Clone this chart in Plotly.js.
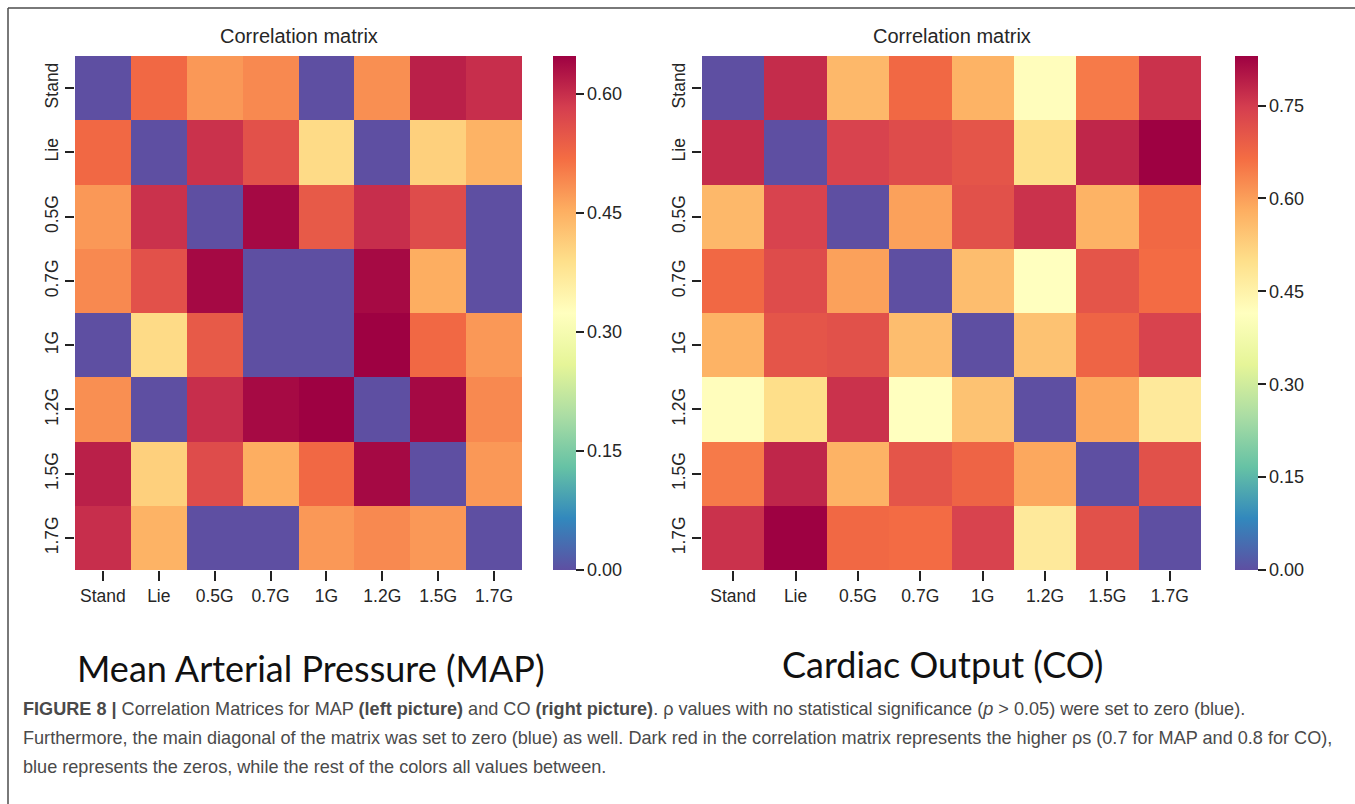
<!DOCTYPE html>
<html>
<head>
<meta charset="utf-8">
<script src="https://cdn.plot.ly/plotly-3.0.1.min.js"></script>
<style>
  html, body { margin: 0; padding: 0; background: #ffffff; }
  #chart { width: 1355px; height: 804px; }
</style>
</head>
<body>
<div id="chart"></div>
<script>
// ---------- data ----------
const categories = ['Stand', 'Lie', '0.5G', '0.7G', '1G', '1.2G', '1.5G', '1.7G'];

// Mean Arterial Pressure correlation matrix (rows top->bottom: Stand ... 1.7G)
const mapValues = [
  [0.000, 0.525, 0.476, 0.490, 0.000, 0.485, 0.615, 0.600],
  [0.525, 0.000, 0.596, 0.557, 0.395, 0.000, 0.410, 0.447],
  [0.476, 0.596, 0.000, 0.640, 0.545, 0.600, 0.564, 0.000],
  [0.490, 0.557, 0.640, 0.000, 0.000, 0.638, 0.454, 0.000],
  [0.000, 0.395, 0.545, 0.000, 0.000, 0.648, 0.525, 0.476],
  [0.485, 0.000, 0.600, 0.638, 0.648, 0.000, 0.640, 0.490],
  [0.615, 0.410, 0.564, 0.454, 0.525, 0.640, 0.000, 0.476],
  [0.600, 0.447, 0.000, 0.000, 0.476, 0.490, 0.476, 0.000]
];

// Cardiac Output correlation matrix
const coValues = [
  [0.000, 0.772, 0.564, 0.672, 0.573, 0.420, 0.647, 0.764],
  [0.772, 0.000, 0.739, 0.722, 0.706, 0.500, 0.780, 0.830],
  [0.564, 0.739, 0.000, 0.598, 0.714, 0.764, 0.573, 0.672],
  [0.672, 0.722, 0.598, 0.000, 0.556, 0.415, 0.706, 0.668],
  [0.573, 0.706, 0.714, 0.556, 0.000, 0.548, 0.680, 0.739],
  [0.420, 0.500, 0.764, 0.415, 0.548, 0.000, 0.589, 0.473],
  [0.647, 0.780, 0.573, 0.706, 0.680, 0.589, 0.000, 0.714],
  [0.764, 0.830, 0.672, 0.668, 0.739, 0.473, 0.714, 0.000]
];

const mapColorbarTicks = [0, 0.15, 0.30, 0.45, 0.60];
const coColorbarTicks = [0, 0.15, 0.30, 0.45, 0.60, 0.75];

const panelTitle = 'Correlation matrix';
const mapLabel = 'Mean Arterial Pressure (MAP)';
const coLabel = 'Cardiac Output (CO)';
const captionLines = [
  '<b>FIGURE 8 |</b> Correlation Matrices for MAP <b>(left picture)</b> and CO <b>(right picture)</b>. ρ values with no statistical significance (<i>p</i> &gt; 0.05) were set to zero (blue).',
  'Furthermore, the main diagonal of the matrix was set to zero (blue) as well. Dark red in the correlation matrix represents the higher ρs (0.7 for MAP and 0.8 for CO),',
  'blue represents the zeros, while the rest of the colors all values between.'
];

// ---------- styling ----------
const W = 1355, H = 804;
const px = v => v / W;
const py = v => 1 - v / H;

// Spectral_r colour scale
const spectralR = [
  [0.0, '#5e4fa2'], [0.1, '#3288bd'], [0.2, '#66c2a5'], [0.3, '#abdda4'],
  [0.4, '#e6f598'], [0.5, '#ffffbf'], [0.6, '#fee08b'], [0.7, '#fdae61'],
  [0.8, '#f46d43'], [0.9, '#d53e4f'], [1.0, '#9e0142']
];

const fontMain = 'Liberation Sans, Arial, sans-serif';
const textColor = '#262626';

const plotTop = 56, plotBottom = 570;

function colorbar(xLeft, ticks) {
  return {
    x: px(xLeft), xanchor: 'left', xpad: 0,
    y: py(plotTop), yanchor: 'top', ypad: 0,
    len: (plotBottom - plotTop) / H, lenmode: 'fraction',
    thickness: 23, outlinewidth: 0,
    tickmode: 'array', tickvals: ticks, tickformat: '.2f', tickprefix: '\u00a0',
    ticks: 'outside', ticklen: 8, tickwidth: 2, tickcolor: '#222',
    tickfont: { family: fontMain, size: 18, color: textColor }
  };
}

const traces = [
  {
    type: 'heatmap', z: mapValues, x: categories, y: categories,
    xaxis: 'x', yaxis: 'y', colorscale: spectralR, zmin: 0,
    colorbar: colorbar(553, mapColorbarTicks), hoverongaps: false
  },
  {
    type: 'heatmap', z: coValues, x: categories, y: categories,
    xaxis: 'x2', yaxis: 'y2', colorscale: spectralR, zmin: 0,
    colorbar: colorbar(1235, coColorbarTicks), hoverongaps: false
  }
];

function xAxis(l, r) {
  return {
    domain: [px(l), px(r)], type: 'category', showgrid: false, zeroline: false,
    showline: false, ticks: 'outside', ticklen: 10, tickwidth: 2, tickcolor: '#222',
    tickfont: { family: fontMain, size: 17.5, color: textColor }, automargin: false,
    fixedrange: true
  };
}
function yAxis(anchor) {
  return {
    domain: [py(plotBottom), py(plotTop)], type: 'category', autorange: 'reversed',
    anchor: anchor, showgrid: false, zeroline: false, showline: false,
    ticks: 'outside', ticklen: 9, tickwidth: 2, tickcolor: '#222', tickangle: -90,
    tickfont: { family: fontMain, size: 17.5, color: textColor }, automargin: false,
    fixedrange: true
  };
}

const layout = {
  width: W, height: H,
  margin: { l: 0, r: 0, t: 0, b: 0 },
  paper_bgcolor: '#ffffff', plot_bgcolor: '#ffffff',
  showlegend: false,
  xaxis: Object.assign(xAxis(75, 522), { anchor: 'y' }),
  yaxis: yAxis('x'),
  xaxis2: Object.assign(xAxis(702, 1201), { anchor: 'y2' }),
  yaxis2: yAxis('x2'),
  shapes: [
    { type: 'line', xref: 'paper', yref: 'paper', x0: px(8), x1: 1, y0: py(8), y1: py(8),
      line: { color: '#4d4d4d', width: 1.5 } },
    { type: 'line', xref: 'paper', yref: 'paper', x0: px(8), x1: px(8), y0: py(8), y1: 0,
      line: { color: '#4d4d4d', width: 1.5 } }
  ],
  annotations: [
    { text: panelTitle, xref: 'paper', yref: 'paper', x: px(298.5), y: py(36),
      xanchor: 'center', yanchor: 'middle', showarrow: false,
      font: { family: fontMain, size: 20, color: textColor } },
    { text: panelTitle, xref: 'paper', yref: 'paper', x: px(951.5), y: py(36),
      xanchor: 'center', yanchor: 'middle', showarrow: false,
      font: { family: fontMain, size: 20, color: textColor } },
    { text: mapLabel, xref: 'paper', yref: 'paper', x: px(311), y: py(668),
      xanchor: 'center', yanchor: 'middle', showarrow: false,
      font: { family: 'Lato, Noto Sans, sans-serif', size: 36, color: '#111' } },
    { text: coLabel, xref: 'paper', yref: 'paper', x: px(942), y: py(664),
      xanchor: 'center', yanchor: 'middle', showarrow: false,
      font: { family: 'Lato, Noto Sans, sans-serif', size: 36, color: '#111' } }
  ].concat(captionLines.map((t, i) => ({
    text: t, xref: 'paper', yref: 'paper', x: px(21), y: py(709 + 29 * i),
    xanchor: 'left', yanchor: 'middle', showarrow: false, align: 'left',
    font: { family: 'Liberation Sans, Arial, sans-serif', size: 18.1, color: '#4a4a4a' }
  })))
};

Plotly.newPlot('chart', traces, layout, { displayModeBar: false, staticPlot: true });
</script>
</body>
</html>
